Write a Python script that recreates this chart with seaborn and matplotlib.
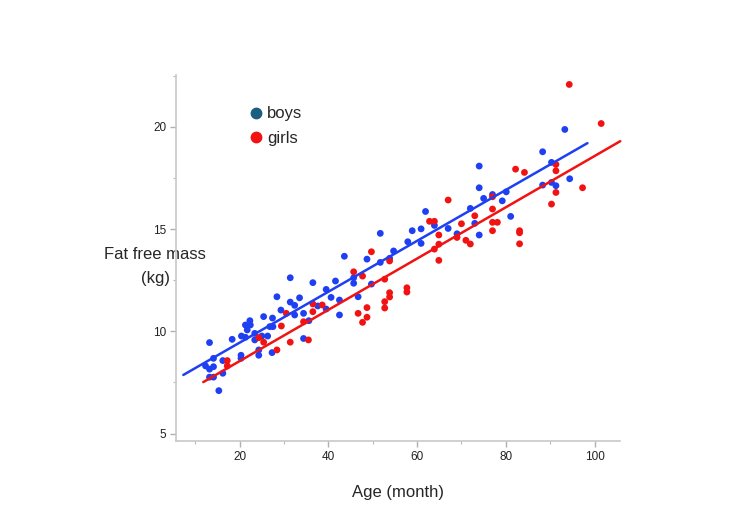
import matplotlib
matplotlib.use('Agg')
import matplotlib.pyplot as plt
from matplotlib.lines import Line2D
from matplotlib.ticker import MultipleLocator
import numpy as np
import pandas as pd
import seaborn as sns

#>> Data
boys_age = [28.4, 33.5, 31.4, 32.4, 29.3, 27.4, 25.4, 22.3, 21.3, 22.4,
            21.7, 26.8, 27.5, 23.4, 20.4, 21.3, 25.0, 26.3, 23.4, 18.3,
            13.2, 32.4, 34.4, 27.3, 24.3, 24.3, 20.3, 20.3, 14.1, 16.2,
            12.3, 14.1, 13.2, 16.2, 13.2, 14.1, 15.3, 31.4, 34.4, 35.6,
            36.5, 37.6, 39.5, 39.5, 40.6, 41.6, 42.5, 42.5, 43.6, 45.7,
            45.7, 46.7, 48.7, 49.7, 51.7, 51.7, 53.8, 54.7, 57.9, 58.9,
            60.9, 60.9, 61.9, 63.9, 67.0, 69.0, 72.0, 73.0, 74.0, 74.0,
            74.0, 75.0, 77.0, 79.2, 80.1, 81.1, 88.3, 90.3, 90.3, 91.3,
            88.3, 93.3, 94.4]
boys_ffm = [11.69, 11.64, 11.43, 11.27, 11.04, 10.65, 10.72, 10.52, 10.31, 10.31,
            10.07, 10.23, 10.23, 9.90, 9.77, 9.71, 9.77, 9.77, 9.58, 9.61,
            9.45, 10.80, 9.65, 8.96, 9.09, 8.83, 8.83, 8.68, 8.68, 8.57,
            8.31, 8.27, 8.15, 7.95, 7.76, 7.76, 7.10, 12.62, 10.88, 10.52,
            12.38, 11.24, 12.05, 11.09, 11.66, 12.46, 11.53, 10.80, 13.67, 12.62,
            12.35, 11.69, 13.53, 12.31, 14.79, 13.37, 13.57, 13.93, 14.38, 14.92,
            15.01, 14.30, 15.86, 15.18, 15.03, 14.77, 16.01, 15.28, 18.08, 17.02,
            14.71, 16.50, 16.69, 16.38, 16.82, 15.62, 18.78, 18.26, 17.28, 17.12,
            17.15, 19.87, 17.46]

girls_age = [30.5, 29.4, 24.3, 25.4, 31.4, 28.4, 17.2, 17.2, 34.4, 35.5,
             36.5, 36.5, 38.6, 45.7, 47.7, 49.7, 53.8, 52.7, 53.8, 53.8,
             52.7, 52.7, 57.7, 57.7, 48.7, 48.7, 46.7, 47.7, 62.8, 63.9,
             64.9, 64.9, 63.9, 64.9, 67.0, 70.0, 69.0, 71.0, 72.0, 73.0,
             77.0, 77.0, 77.0, 78.1, 77.0, 82.2, 84.2, 83.1, 83.1, 83.1,
             91.3, 91.3, 91.3, 90.3, 97.3, 94.3, 101.5]
girls_ffm = [10.88, 10.26, 9.69, 9.47, 9.47, 9.09, 8.57, 8.31, 10.47, 9.58,
             11.34, 10.96, 11.29, 12.91, 12.70, 13.89, 13.44, 12.55, 11.89, 11.68,
             11.45, 11.14, 12.13, 11.92, 11.16, 10.69, 10.88, 10.44, 15.38, 15.38,
             14.71, 14.26, 14.02, 13.47, 16.42, 15.26, 14.59, 14.45, 14.27, 15.65,
             16.58, 15.98, 15.33, 15.33, 14.92, 17.93, 17.77, 14.92, 14.82, 14.28,
             18.16, 17.85, 16.79, 16.22, 17.02, 22.07, 20.16]

# regression lines as drawn: (from month, to month, intercept, slope)
boys_fit = (7.3, 98.4, 6.96, 0.1244)
girls_fit = (11.8, 105.8, 6.04, 0.1253)

colors = {'boys': '#1f3ff2', 'girls': '#f21212'}
legend_colors = {'boys': '#1b5e80', 'girls': '#f21212'}

df = pd.concat([
    pd.DataFrame({'age': boys_age, 'ffm': boys_ffm, 'sex': 'boys'}),
    pd.DataFrame({'age': girls_age, 'ffm': girls_ffm, 'sex': 'girls'}),
], ignore_index=True)

sns.set_style('white')
plt.rcParams['font.family'] = ['Liberation Sans', 'DejaVu Sans']

fig = plt.figure(figsize=(7.5, 5.3), dpi=100)
ax = fig.add_axes([0.235, 0.168, 0.592, 0.69])

sns.scatterplot(data=df, x='age', y='ffm', hue='sex', palette=colors,
                s=24, linewidth=0, legend=False, ax=ax, zorder=3)

for sex, (x0, x1, b, m) in [('boys', boys_fit), ('girls', girls_fit)]:
    xs = np.array([x0, x1])
    ax.plot(xs, b + m * xs, color=colors[sex], lw=1.8, zorder=4, clip_on=False)

#>> Axes styling
ax.set_xlim(5.7, 105.8)
ax.set_ylim(4.64, 22.52)
ax.xaxis.set_major_locator(MultipleLocator(20))
ax.xaxis.set_minor_locator(MultipleLocator(10))
ax.yaxis.set_major_locator(MultipleLocator(5))
ax.yaxis.set_minor_locator(MultipleLocator(2.5))
for s in ['top', 'right']:
    ax.spines[s].set_visible(False)
for s in ['left', 'bottom']:
    ax.spines[s].set_color('#c8c8c8')
    ax.spines[s].set_linewidth(1.2)
ax.tick_params(which='both', bottom=True, left=True)
ax.tick_params(which='major', direction='out', length=4, width=1, color='#b0b0b0',
               labelsize=8.5, labelcolor='#222222', pad=3)
ax.tick_params(which='minor', direction='out', length=2.5, width=0.8, color='#b8b8b8')

ax.set_xlabel('Age (month)', fontsize=12, labelpad=16)
ax.set_ylabel('Fat free mass\n(kg)', fontsize=12, rotation=0, linespacing=1.75,
              ha='center', va='center')
ax.yaxis.set_label_coords(-0.047, 0.478)

handles = [Line2D([], [], marker='o', ls='', color=legend_colors[k], markersize=7.5)
           for k in ['boys', 'girls']]
ax.legend(handles, ['boys', 'girls'], loc='upper left', bbox_to_anchor=(0.16, 0.915),
          frameon=False, fontsize=12, handlelength=1, handletextpad=0.2,
          labelspacing=0.55, borderpad=0, borderaxespad=0)

fig.savefig('out.png', dpi=100)
